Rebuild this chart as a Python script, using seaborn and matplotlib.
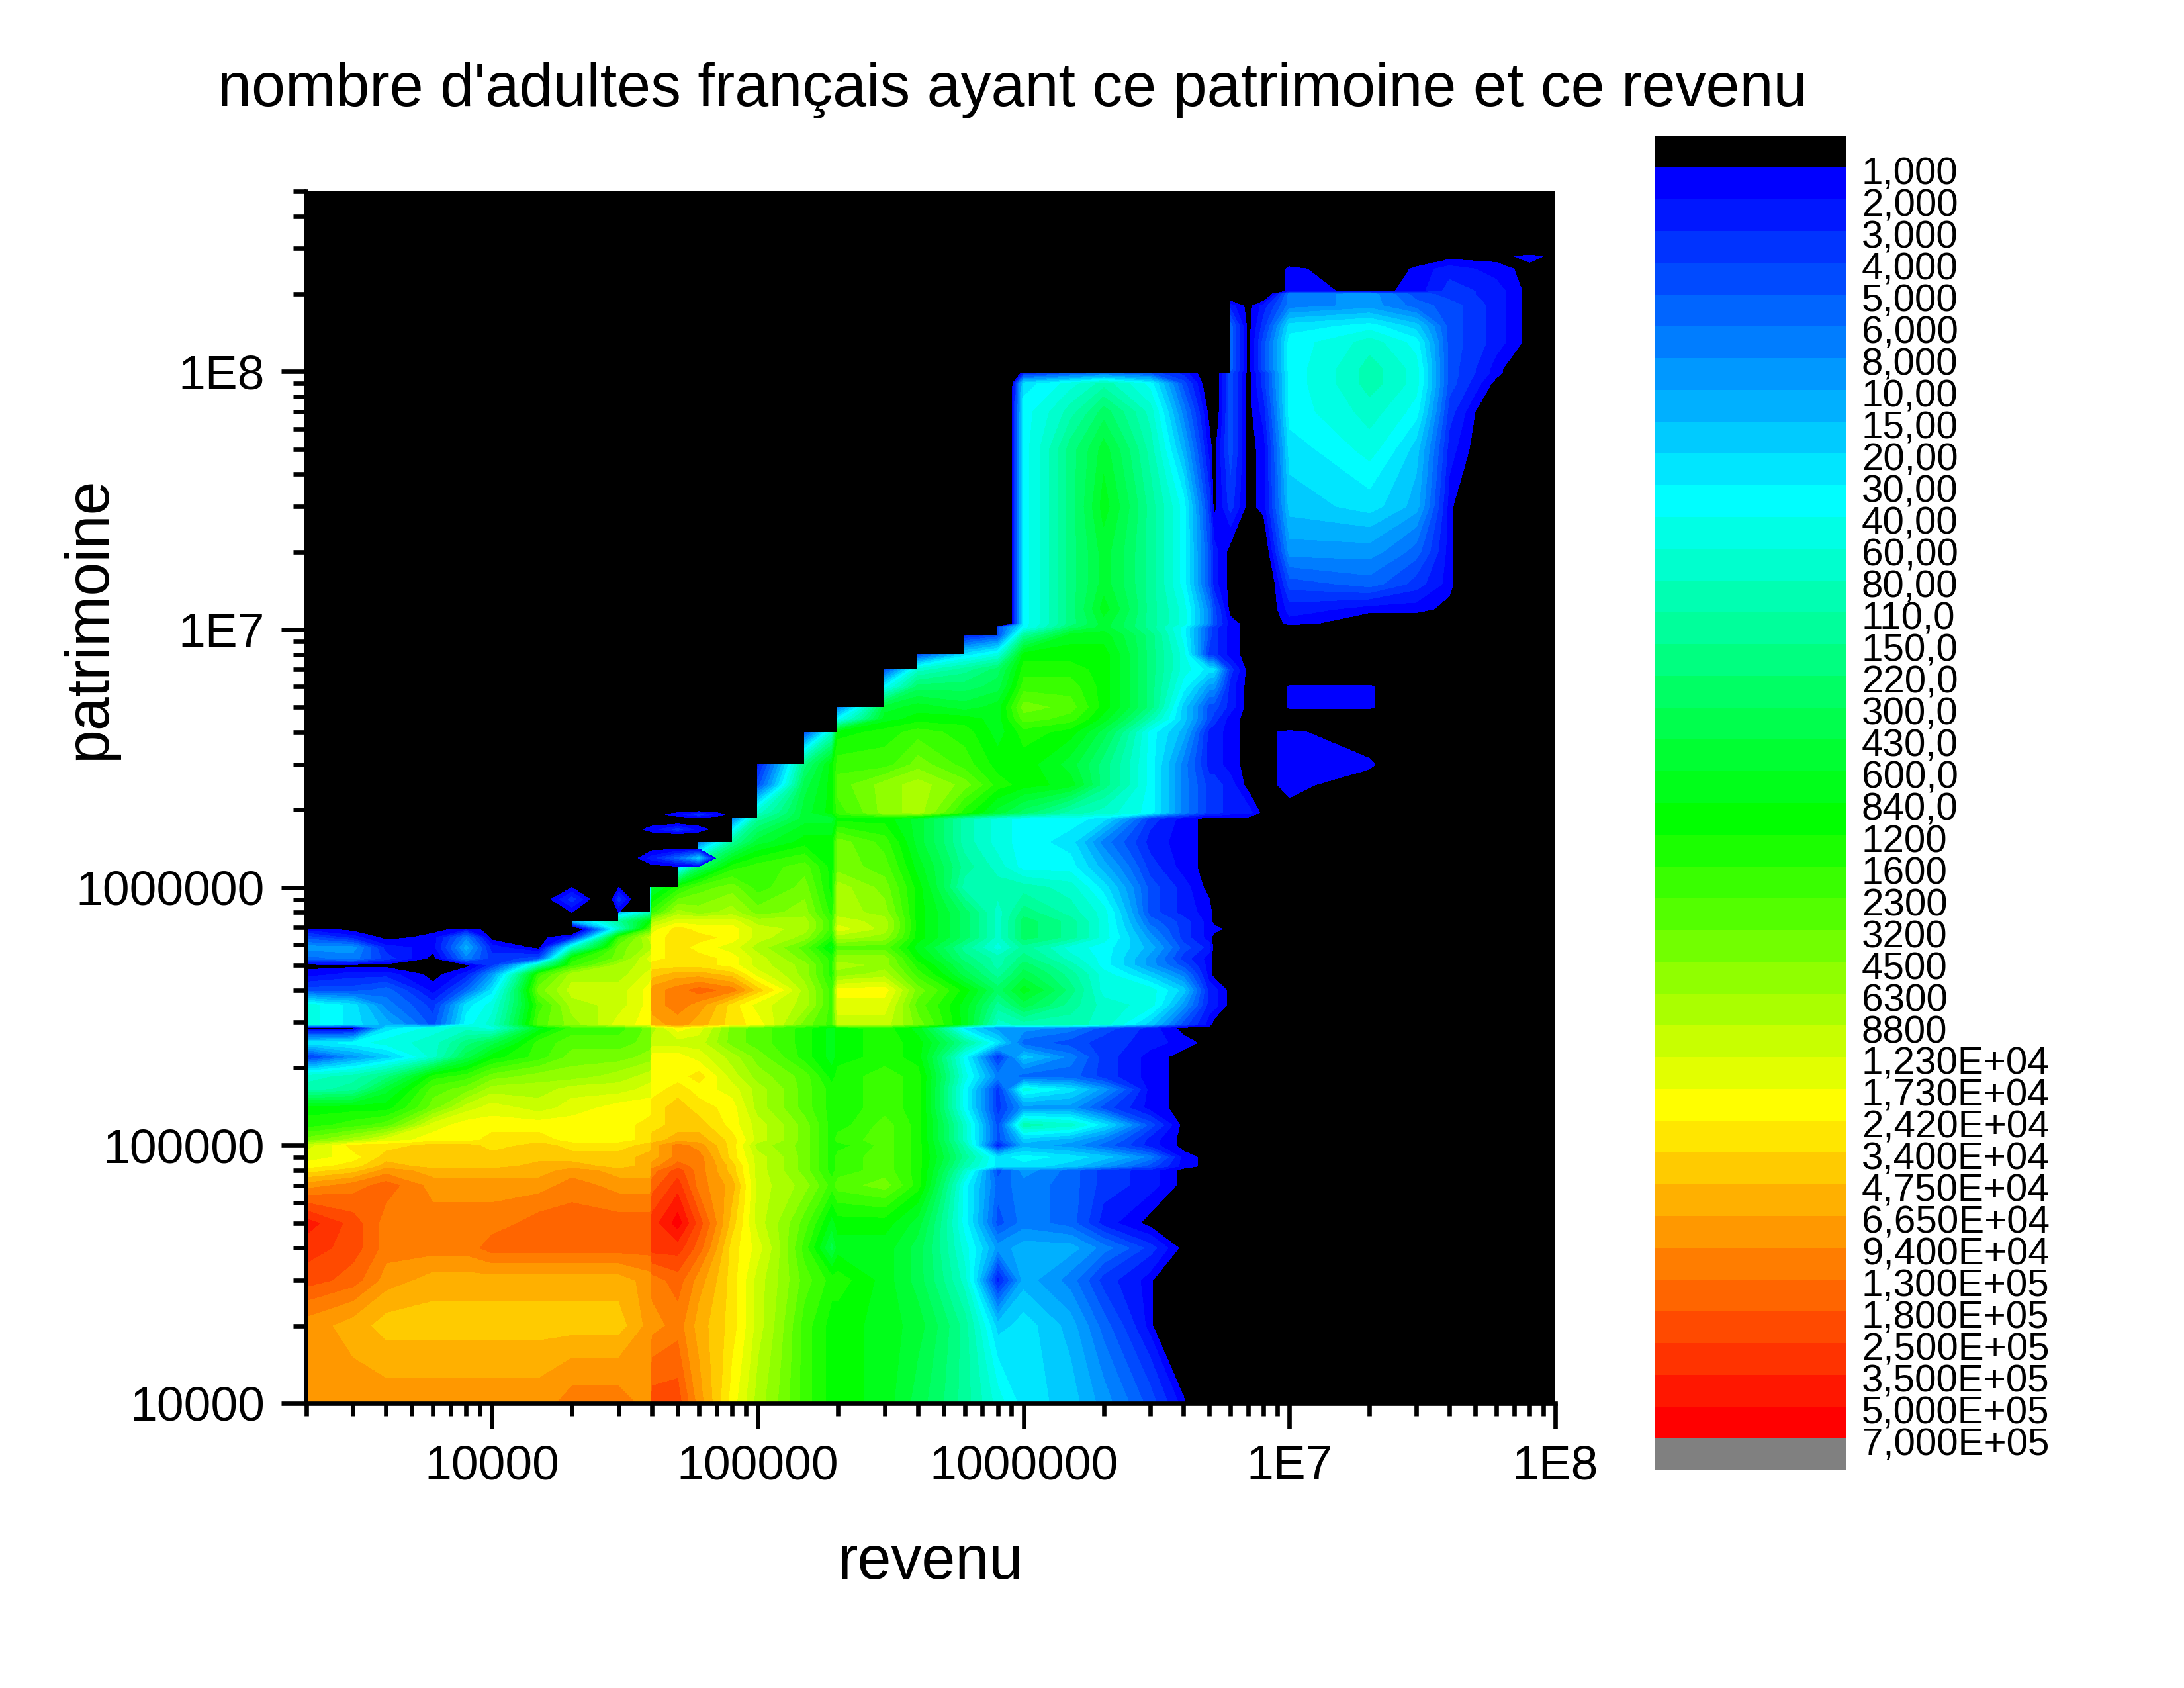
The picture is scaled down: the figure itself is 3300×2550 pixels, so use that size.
import numpy as np
import matplotlib
matplotlib.use("Agg")
import matplotlib.pyplot as plt
from matplotlib.colors import LinearSegmentedColormap, ListedColormap
from matplotlib.ticker import LogLocator, NullFormatter, FixedLocator, FixedFormatter
from matplotlib.transforms import ScaledTranslation
import seaborn as sns

X = float("nan")   # cell not drawn

level_labels = ["1,000","2,000","3,000","4,000","5,000","6,000","8,000","10,00","15,00","20,00",
                "30,00","40,00","60,00","80,00","110,0","150,0","220,0","300,0","430,0","600,0",
                "840,0","1200","1600","2300","3200","4500","6300","8800","1,230E+04","1,730E+04",
                "2,420E+04","3,400E+04","4,750E+04","6,650E+04","9,400E+04","1,300E+05","1,800E+05",
                "2,500E+05","3,500E+05","5,000E+05","7,000E+05"]

revenu = [2e3,3e3,4e3,6e3,8e3,1e4,1.5e4,2e4,3e4,3.95e4,4e4,5e4,6e4,8e4,1e5,1.5e5,1.9e5,2e5,3e5,4e5,
          6e5,8e5,1e6,1.5e6,2e6,3e6,4e6,5e6,5.2e6,6e6,7e6,8e6,1e7,2e7,3e7,4e7,6e7,8e7,1e8]

patrimoine = [1e4,2e4,3e4,4e4,5e4,7e4,8e4,8.3e4,9e4,1e5,1.05e5,1.2e5,1.4e5,1.65e5,1.85e5,2.2e5,2.5e5,2.85e5,
              2.95e5,3.5e5,4e5,4.6e5,5e5,5.3e5,5.85e5,6.4e5,6.9e5,7.4e5,8e5,1e6,1.2e6,1.5e6,1.85e6,1.95e6,
              2.5e6,3e6,4e6,4.5e6,5e6,6e6,7e6,8e6,9.5e6,1.02e7,1.05e7,1.2e7,1.5e7,2e7,3e7,5e7,7e7,9e7,9.9e7,
              1.02e8,1.3e8,1.5e8,1.8e8,2e8,2.05e8,2.5e8,2.8e8,3e8]

# contour band (index into level_labels) read at each revenu node, one row per patrimoine node; below 0 = under 1
band_rows = [
 [33,33,33,33,33,33,33,34,34,33,36,36,33,29,26,22,20,20,19,17,14,11,9,8,6,3,0,-12],
 [33,32,31,31,31,31,31,31,31,33,33,34,32,30,27,22,20,20,19,18,14,8,9,7,4,0,-8],
 [36,35,33,32,32,32,32,32,32,33,34,35,33,30,27,23,21,21,19,17,12,1,7,5,2,0,-8],
 [37,36,34,34,34,35,35,35,35,35,37,37,35,30,28,22,17,19,19,17,11,6,7,7,5,2,-1],
 [38,36,34,34,34,34,35,35,35,35,37,39,36,31,27,23,19,20,20,18,10,3,5,4,1,-1],
 [33,34,35,33,33,33,33,34,33,33,35,37,34,32,27,25,22,23,24,21,10,4,5,4,2,1],
 [30,31,33,32,32,32,32,33,32,32,34,36,34,31,27,24,21,22,23,21,12,3,6,4,2,1],
 [29,30,32,31,31,31,32,32,31,32,33,35,34,31,27,24,21,22,23,21,13,9,9,8,6,3,0],
 [28,29,31,31,31,31,31,31,31,32,32,34,34,30,27,24,21,22,23,21,14,9,10,9,8,5,0],
 [27,30,30,31,31,30,31,30,30,31,32,34,33,30,26,24,21,21,23,21,13,1,7,6,4,1],
 [24,26,28,29,29,30,30,29,29,30,31,32,32,30,27,24,21,22,23,21,12,3,8,7,5,1],
 [21,22,23,28,29,29,29,29,29,30,30,31,31,29,27,24,21,21,23,21,12,3,13,12,9,3],
 [20,20,20,24,27,28,27,28,29,29,30,31,30,29,26,23,21,21,22,21,10,2,6,6,3,0],
 [13,14,18,23,24,26,26,27,27,28,29,30,29,28,26,23,21,21,22,21,10,2,11,9,6,0],
 [12,13,15,21,22,24,25,25,26,27,29,29,30,27,25,23,20,21,22,21,11,5,4,4,2,0],
 [2,6,8,12,17,20,22,24,24,25,29,29,28,26,24,21,19,20,21,20,10,2,8,5,2,0],
 [9,10,11,12,15,17,22,23,23,24,27,27,27,24,23,21,19,20,21,20,14,9,4,3,2,1,0],
 [-1,-1,9,11,12,11,19,22,22,24,26,29,28,24,23,21,19,20,21,19,9,6,6,5,3,1],
 [11,9,7,3,10,12,23,25,28,29,32,33,32,30,29,24,22,27,27,24,19,12,13,13,12,8,3,0],
 [11,9,5,2,9,11,22,26,27,29,33,34,33,30,28,26,22,28,28,23,19,14,17,14,12,11,6,1,1],
 [3,3,4,0,4,9,24,27,27,29,33,34,35,34,31,26,22,29,29,24,20,16,19,15,11,11,8,1,1],
 [0,1,1,-1,1,6,22,26,26,28,31,32,32,31,28,25,21,25,26,22,17,14,17,14,11,8,5,0],
 [-1,-1,-1,-1,-1,2,13,22,26,27,30,30,30,29,27,25,21,26,25,21,16,13,16,13,10,6,3,0],
 [4,5,2,-1,5,2,3,21,24,28,29,30,30,29,27,24,21,25,25,20,15,13,15,12,10,6,2,0],
 [6,6,1,0,7,1,-1,12,24,26,29,30,29,28,26,23,19,23,23,19,14,11,14,11,10,7,3,1],
 [3,1,-1,0,5,-1,-1,1,22,27,29,30,30,29,27,25,21,26,25,20,16,12,16,14,11,6,2,0],
 [0,-1,-1,-1,0,-1,-1,-4,12,23,28,30,29,29,27,26,22,28,26,20,16,12,16,14,11,5,2,0,0],
 [X]*7+[7,14,20,26,28,28,28,26,26,22,27,26,20,16,12,16,14,11,4,2,0],
 [X]*8+[7,13,22,26,25,26,24,25,21,26,25,20,16,12,15,13,11,3,1,0],
 [X]*9+[9,18,21,23,24,22,24,20,26,24,20,13,13,13,12,9,3,1],
 [X]*11+[8,16,21,22,23,20,24,23,19,14,12,10,10,7,2,0],
 [X]*12+[5,14,18,20,20,24,22,18,13,11,10,9,5,1,0],
 [X]*13+[5,14,18,18,20,20,18,13,11,10,10,9,2,0],
 [X]*14+[12,18,20,22,25,26,21,18,16,13,12,10,5,2,2,1,1,-1],
 [X]*14+[3,17,20,23,25,26,24,21,20,19,15,10,5,2,2,1,-1,-1,0,-2],
 [X]*14+[1,15,20,22,22,24,22,20,20,18,15,10,5,1,1,0,-1,-1,0,0,-5],
 [X]*15+[3,12,20,21,22,21,19,21,20,17,10,7,1,1,0,-1,-1,0,-3],
 [X]*17+[10,19,20,20,19,23,22,19,13,8,3,2,0,-1,-4,-4,-4,-4],
 [X]*17+[5,18,19,18,19,24,23,20,15,8,3,3,1,-1,-5,0,0,-5],
 [X]*18+[10,16,16,17,22,22,20,15,10,6,6,1,-1,-5,0,0,-5],
 [X]*18+[3,12,14,16,21,21,20,15,11,9,9,2,-1,-5,-6,-6,-6],
 [X]*19+[3,9,11,20,20,20,15,11,2,2,0,-1],
 [X]*20+[1,3,14,19,19,15,10,3,2,0,-1],
 [X]*21+[3,10,16,18,14,10,3,2,0,-1,-1,-6,-6,-6,-6],
 [X]*21+[-12,10,15,18,14,11,5,3,0,-1,-2,0,-2,-2,-5,-8],
 [X]*21+[-12,10,15,19,14,11,5,3,-1,-2,-2,1,0,0,-1,-8],
 [X]*21+[-12,10,15,18,14,10,3,1,-1,-2,-3,3,4,2,0,-8],
 [X]*21+[-12,10,15,18,14,10,3,1,-1,-2,-2,6,6,4,0,-8],
 [X]*21+[-12,10,15,19,14,10,2,-1,2,-1,0,8,9,7,0,-8],
 [X]*21+[-12,10,15,18,13,7,0,-1,3,-1,0,9,11,8,1,-3],
 [X]*21+[-12,10,13,16,12,5,-1,-2,3,-1,1,10,12,10,2,-3],
 [X]*21+[-12,9,11,13,10,3,-2,-2,3,-1,2,10,13,11,3,-1,-3],
 [X]*21+[-12,1,3,4,3,1,-2,-2,3,-1,2,10,13,11,3,0,-3],
 [X]*29+[4,-1,3,10,13,11,3,0,-3],
 [X]*29+[4,-1,3,10,12,10,3,1,-1],
 [X]*29+[4,-1,2,9,10,8,3,1,-1],
 [X]*29+[1,-1,1,5,6,4,3,1,-1],
 [X]*29+[-3,-3,-3,5,6,3,2,1,-1],
 [X]*29+[-3,-3,-3,0,-1,0,2,1,-1],
 [X]*29+[-3,-3,-3,0,-3,0,1,0,-1],
 [X]*29+[-3,-3,-3,-3,-3,-3,-1,-1,0],
 [X]*29+[-3,-3,-3,-3,-3,-3,-3,-3,-3],
]

# small separate patches above the main staircase
patch_revenu = [1.6e4,2e4,2.4e4,2.8e4,3e4,3.4e4,4e4,5e4,6e4,7e4,8e4]
patch_patrimoine = [7.8e5,9e5,1.02e6,1.2e6,1.3e6,1.42e6,1.6e6,1.68e6,1.78e6,1.85e6,1.92e6,1.98e6]
patch_rows = [
 [-1,-1,-1,-1,-1,-1,-1,-1,-1,-1,-1],
 [-1,2,-1,-1,2,-1,-1,-1,-1,-1,-1],
 [-1,-1,-1,-1,-1,-1,-1,-1,-1,-1,-1],
 [-1,-1,-1,-1,-1,-1,-1,-1,-1,-1,-1],
 [-1,-1,-1,-1,-1,-1,1,4,8,-1,-1],
 [-1,-1,-1,-1,-1,-1,-1,-1,-1,-1,-1],
 [-1,-1,-1,-1,-1,-1,-1,-1,-1,-1,-1],
 [-1,-1,-1,-1,-1,-1,0,2,0,-1,-1],
 [-1,-1,-1,-1,-1,-1,-1,-1,-1,-1,-1],
 [-1,-1,-1,-1,-1,-1,-1,-1,-1,-1,-1],
 [-1,-1,-1,-1,-1,-1,-1,0,2,0,-1],
 [-1,-1,-1,-1,-1,-1,-1,-1,-1,-1,-1],
]

sns.set_theme(style="ticks")
plt.rcParams["font.family"] = ["Liberation Sans", "DejaVu Sans"]
plt.rcParams["text.color"] = "black"

W, H = 3300, 2550
fig = plt.figure(figsize=(11, 8.5), dpi=300, facecolor="white")

def box(l, t, r, b):
    return [l / W, 1 - b / H, (r - l) / W, (b - t) / H]

ax = fig.add_axes(box(462.5, 289, 2350, 2120), facecolor="black")

ramp = LinearSegmentedColormap.from_list(
    "bands", [(0, "#0000ff"), (10 / 39, "#00ffff"), (20 / 39, "#00ff00"), (29 / 39, "#ffff00"), (1, "#ff0000")])
band_colors = [ramp(i / 39) for i in range(40)]

n = len(revenu)
table = np.array([r + [-1] * (n - len(r)) for r in band_rows], dtype=float)
assert table.shape == (len(patrimoine), n)

ax.contourf(revenu, patrimoine, table + 0.5, levels=np.arange(0, 41), colors=band_colors,
            antialiased=False, corner_mask=False)
ax.contourf(patch_revenu, patch_patrimoine, np.array(patch_rows, dtype=float) + 0.5, levels=np.arange(0, 41),
            colors=band_colors, antialiased=False)
ax.set_xscale("log")
ax.set_yscale("log")
ax.set_xlim(2e3, 1e8)
ax.set_ylim(1e4, 5e8)

major_x = [1e4, 1e5, 1e6, 1e7, 1e8]
major_y = [1e4, 1e5, 1e6, 1e7, 1e8]
ax.xaxis.set_major_locator(FixedLocator(major_x))
ax.xaxis.set_major_formatter(FixedFormatter(["10000", "100000", "1000000", "1E7", "1E8"]))
ax.yaxis.set_major_locator(FixedLocator(major_y))
ax.yaxis.set_major_formatter(FixedFormatter(["10000", "100000", "1000000", "1E7", "1E8"]))
for a in (ax.xaxis, ax.yaxis):
    a.set_minor_locator(LogLocator(base=10, subs=range(2, 10), numticks=30))
    a.set_minor_formatter(NullFormatter())
ax.tick_params(which="major", length=9, width=1.6, labelsize=17.6, pad=6, color="black", labelcolor="black")
ax.tick_params(which="minor", length=4.6, width=1.6, color="black")
sns.despine(ax=ax, top=True, right=True)
for s in ("left", "bottom"):
    ax.spines[s].set_linewidth(1.6)
    ax.spines[s].set_color("black")
ax.set_axisbelow(False)

ax.set_xlabel("revenu", fontsize=22, color="black")
ax.xaxis.set_label_coords(0.5, (2120 - 2361) / 1831, transform=ax.transAxes)
ax.xaxis.label.set_verticalalignment("center")
ax.set_ylabel("patrimoine", fontsize=22, color="black")
ax.yaxis.set_label_coords((135 - 462.5) / 1887.5, (2120 - 934) / 1831, transform=ax.transAxes)
ax.yaxis.label.set_verticalalignment("center")

fig.text(1530 / W, 1 - 136 / H, "nombre d'adultes français ayant ce patrimoine et ce revenu",
         ha="center", va="center", fontsize=22, color="black")

# colour scale
cax = fig.add_axes(box(2500, 205, 2790, 2221))
scale_colors = ["#000000"] + band_colors + ["#808080"]
sns.heatmap(np.arange(len(scale_colors)).reshape(-1, 1), ax=cax, cmap=ListedColormap(scale_colors),
            cbar=False, xticklabels=False, yticklabels=False, vmin=-0.5, vmax=len(scale_colors) - 0.5)
cax.yaxis.tick_right()
cax.set_yticks(np.arange(1, len(level_labels) + 1))
cax.set_yticklabels(level_labels, rotation=0, fontsize=14, color="black")
cax.tick_params(axis="y", length=0, pad=5.5, left=False, right=True, labelleft=False, labelright=True)
shift = ScaledTranslation(0, -5 / 300, fig.dpi_scale_trans)
for lab in cax.get_yticklabels():
    lab.set_transform(lab.get_transform() + shift)

fig.savefig("out.png", dpi=300)
